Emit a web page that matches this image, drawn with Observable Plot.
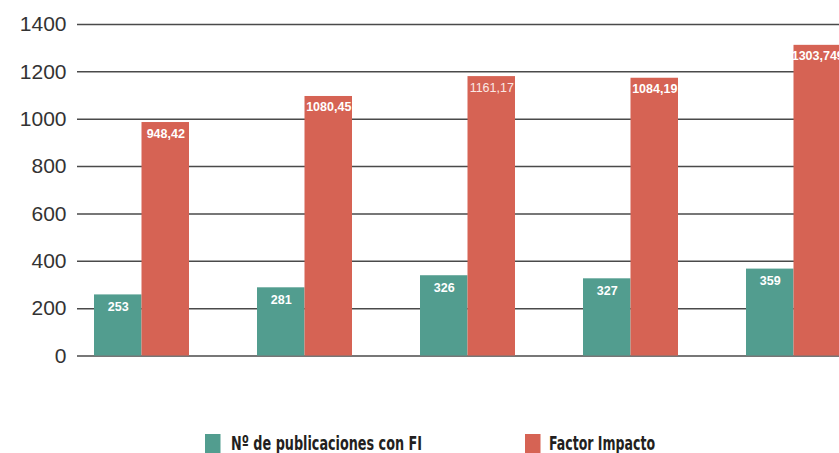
<!DOCTYPE html>
<html><head><meta charset="utf-8">
<script src="https://cdn.jsdelivr.net/npm/d3@7"></script>
<script src="https://cdn.jsdelivr.net/npm/@observablehq/plot@0.6"></script>
<style>
html,body{margin:0;padding:0;background:#fff;overflow:hidden;width:839px;height:453px}
#chart svg{display:block}
</style></head><body><div id="chart"></div><script>
const groups = ["G1","G2","G3","G4","G5"];
const publicaciones = [258, 288, 339, 326, 367];
const publicacionesLabels = ["253","281","326","327","359"];
const factorImpacto = [986, 1096, 1180, 1173, 1312];
const factorImpactoLabels = ["948,42","1080,45","1161,17","1084,19","1303,749"];
const yTicks = [0,200,400,600,800,1000,1200,1400];
const seriesNames = ["Nº de publicaciones con FI","Factor Impacto"];
const seriesColors = ["#529d8f","#d66354"];

const data = groups.flatMap((g,i)=>[
  {group:g, series:seriesNames[0], value:publicaciones[i], label:publicacionesLabels[i]},
  {group:g, series:seriesNames[1], value:factorImpacto[i], label:factorImpactoLabels[i]}
]);
const green = data.filter(d=>d.series===seriesNames[0]);
const red = data.filter(d=>d.series===seriesNames[1]);
const lightLabel = "1161,17";
const half = 47.5;
const font = "'Liberation Sans', Arial, Helvetica, sans-serif";

const plot = Plot.plot({
  width:839, height:400, marginTop:24, marginBottom:44.5, marginLeft:77, marginRight:0,
  x:{domain:groups, range:[92.5,842.5], paddingInner:0.42, paddingOuter:0, axis:null},
  y:{domain:[0,1400], axis:null},
  color:{domain:seriesNames, range:seriesColors},
  style:{fontFamily:font, background:"transparent", overflow:"hidden"},
  marks:[
    Plot.ruleY(yTicks,{stroke:"#4a4a4a",strokeWidth:1.5}),
    Plot.axisY({ticks:yTicks, tickSize:0, tickPadding:11, fontSize:21, color:"#333", tickFormat:d=>String(d), label:null}),
    Plot.barY(green,{x:"group",y:"value",fill:"series",insetRight:half}),
    Plot.barY(red,{x:"group",y:"value",fill:"series",insetLeft:half}),
    Plot.text(green,{x:"group",y:"value",text:"label",dx:-half/2,dy:12,fill:"white",fontWeight:"bold",fontSize:12.5}),
    Plot.text(red.filter(d=>d.label!==lightLabel),{x:"group",y:"value",text:"label",dx:half/2,dy:11,fill:"white",fontWeight:"bold",fontSize:12.5}),
    Plot.text(red.filter(d=>d.label===lightLabel),{x:"group",y:"value",text:"label",dx:half/2,dy:11,fill:"#fbe8e4",fontWeight:"normal",fontSize:12.5})
  ]
});
document.getElementById("chart").appendChild(plot);

// legend below the chart
const legend = d3.create("svg").attr("width",839).attr("height",53).style("display","block");
const legendItems = [
  {name:seriesNames[0], color:seriesColors[0], x:205, tx:231, tw:191},
  {name:seriesNames[1], color:seriesColors[1], x:525, tx:549, tw:106}
];
for (const it of legendItems) {
  legend.append("rect").attr("x",it.x).attr("y",34).attr("width",15.5).attr("height",19).attr("fill",it.color);
  legend.append("text").attr("x",it.tx).attr("y",49.5)
    .attr("font-family","'DejaVu Sans Condensed', 'Liberation Sans Narrow', 'Liberation Sans', sans-serif")
    .attr("font-weight","bold").attr("font-size",20).attr("fill","#231f20")
    .attr("textLength",it.tw).attr("lengthAdjust","spacingAndGlyphs")
    .text(it.name);
}
document.getElementById("chart").appendChild(legend.node());
</script></body></html>
